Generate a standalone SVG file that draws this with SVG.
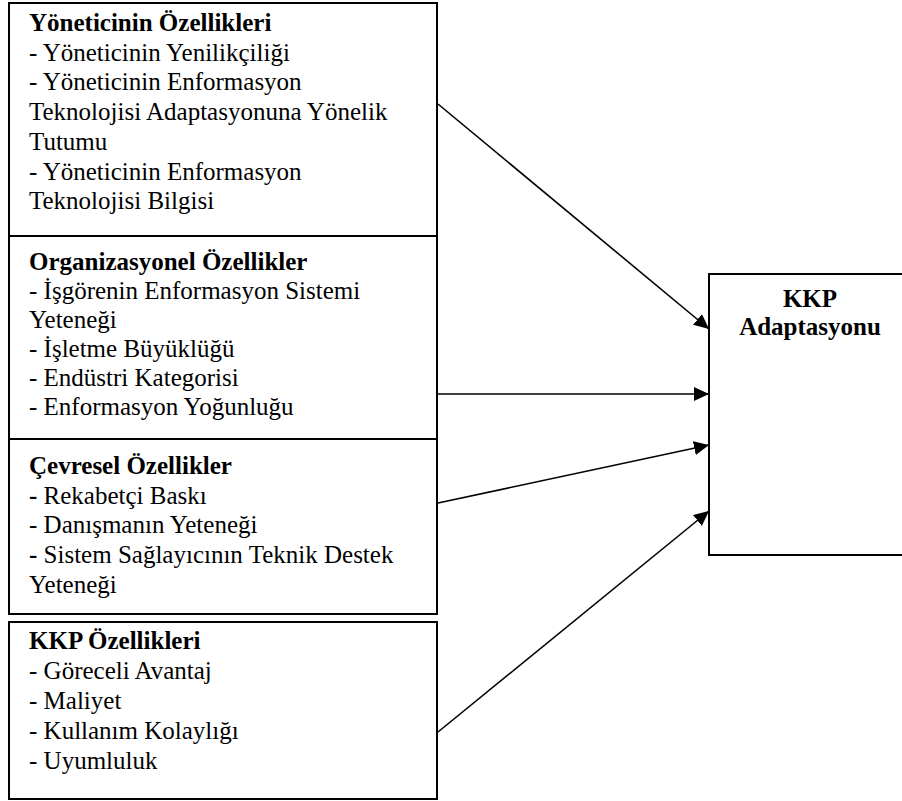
<svg xmlns="http://www.w3.org/2000/svg" width="902" height="801" viewBox="0 0 902 801">
  <style>
    .box { fill: #ffffff; stroke: #000000; stroke-width: 2; }
    .conn { stroke: #000000; stroke-width: 1.6; fill: none; marker-end: url(#arrow); }
    text { font-family: "Liberation Serif", "Times New Roman", serif; font-size: 25px; fill: #000000; }
    .b { font-weight: bold; }
  </style>
  <defs>
    <marker id="arrow" markerUnits="userSpaceOnUse" markerWidth="16" markerHeight="15" refX="15" refY="7" orient="auto">
      <path d="M0,0 L15,7 L0,14 z" fill="#000000"/>
    </marker>
  </defs>

  <rect width="902" height="801" fill="#ffffff"/>

  <g id="yonetici">
    <rect class="box" x="9" y="3" width="428" height="233"/>
    <text x="29" y="31" class="b">Yöneticinin Özellikleri</text>
    <text x="29" y="60.7">- Yöneticinin Yenilikçiliği</text>
    <text x="29" y="90.4">- Yöneticinin Enformasyon</text>
    <text x="29" y="120.1">Teknolojisi Adaptasyonuna Yönelik</text>
    <text x="29" y="149.8">Tutumu</text>
    <text x="29" y="179.5">- Yöneticinin Enformasyon</text>
    <text x="29" y="209.2">Teknolojisi Bilgisi</text>
  </g>

  <g id="organizasyonel">
    <rect class="box" x="9" y="236" width="428" height="203"/>
    <text x="29" y="270" class="b">Organizasyonel Özellikler</text>
    <text x="29" y="299">- İşgörenin Enformasyon Sistemi</text>
    <text x="29" y="328">Yeteneği</text>
    <text x="29" y="357">- İşletme Büyüklüğü</text>
    <text x="29" y="386">- Endüstri Kategorisi</text>
    <text x="29" y="415">- Enformasyon Yoğunluğu</text>
  </g>

  <g id="cevresel">
    <rect class="box" x="9" y="439" width="428" height="175"/>
    <text x="29" y="474" class="b">Çevresel Özellikler</text>
    <text x="29" y="503.7"><tspan class="b">-</tspan> Rekabetçi Baskı</text>
    <text x="29" y="533.4">- Danışmanın Yeteneği</text>
    <text x="29" y="563.1"><tspan class="b">-</tspan> Sistem Sağlayıcının Teknik Destek</text>
    <text x="29" y="592.8">Yeteneği</text>
  </g>

  <g id="kkp-ozellikleri">
    <rect class="box" x="9" y="622" width="428" height="177"/>
    <text x="29" y="649" class="b">KKP Özellikleri</text>
    <text x="29" y="679">- Göreceli Avantaj</text>
    <text x="29" y="709">- Maliyet</text>
    <text x="29" y="739">- Kullanım Kolaylığı</text>
    <text x="29" y="769">- Uyumluluk</text>
  </g>

  <g id="kkp-adaptasyonu">
    <rect class="box" x="709" y="274" width="203" height="281"/>
    <text x="810" y="307" class="b" text-anchor="middle">KKP</text>
    <text x="810" y="335" class="b" text-anchor="middle">Adaptasyonu</text>
  </g>

  <g id="connectors">
    <line class="conn" x1="438" y1="104" x2="709" y2="329"/>
    <line class="conn" x1="438" y1="394" x2="709" y2="394"/>
    <line class="conn" x1="438" y1="503" x2="709" y2="445"/>
    <line class="conn" x1="438" y1="732" x2="709" y2="511"/>
  </g>
</svg>
